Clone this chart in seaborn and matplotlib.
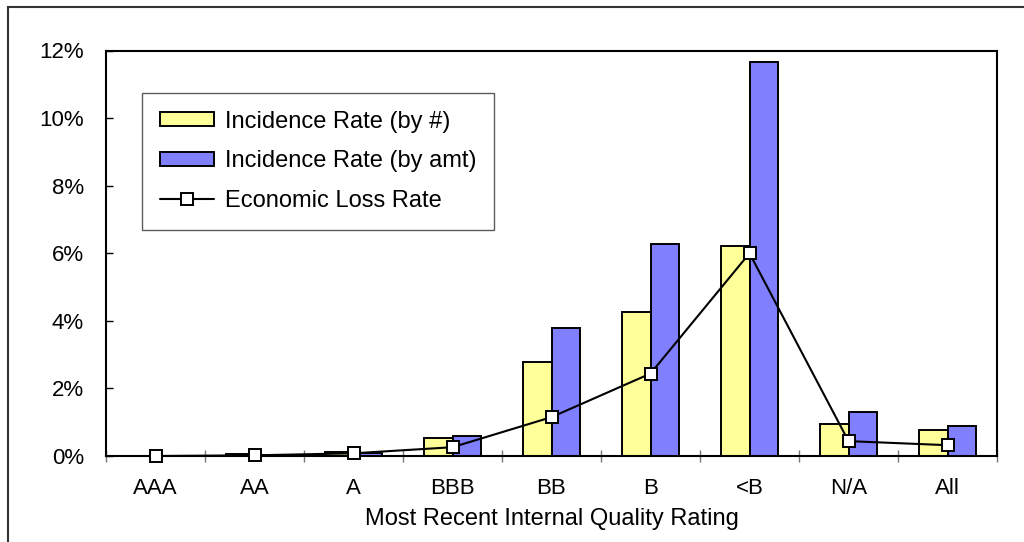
import numpy as np
import pandas as pd
import matplotlib
matplotlib.use("Agg")
import matplotlib.pyplot as plt
from matplotlib.patches import Rectangle
from matplotlib.ticker import FuncFormatter, FixedLocator
import seaborn as sns

# Default / loss statistics by most recent internal rating (in percent)
ratings = ["AAA", "AA", "A", "BBB", "BB", "B", "<B", "N/A", "All"]
incidence_by_count = [0.0, 0.05, 0.12, 0.52, 2.77, 4.26, 6.21, 0.95, 0.77]
incidence_by_amount = [0.0, 0.04, 0.08, 0.58, 3.78, 6.27, 11.65, 1.30, 0.89]
economic_loss = [0.0, 0.02, 0.08, 0.26, 1.15, 2.44, 6.00, 0.44, 0.32]

series_names = ["Incidence Rate (by #)", "Incidence Rate (by amt)"]
line_name = "Economic Loss Rate"

bars = pd.DataFrame({
    "rating": ratings * 2,
    "rate": incidence_by_count + incidence_by_amount,
    "series": [series_names[0]] * len(ratings) + [series_names[1]] * len(ratings),
})

sns.set_theme(style="white")
plt.rcParams["font.family"] = ["Liberation Sans", "DejaVu Sans"]
for key in ["text.color", "axes.labelcolor", "xtick.color", "ytick.color"]:
    plt.rcParams[key] = "black"

FS = 16

fig = plt.figure(figsize=(10.24, 5.42), dpi=100)
ax = fig.add_axes([106 / 1024, 1 - 456 / 542, (997 - 106) / 1024, (456 - 50.5) / 542])

sns.barplot(
    data=bars, x="rating", y="rate", hue="series", order=ratings,
    hue_order=series_names, palette=["#FFFF99", "#8080FF"],
    width=0.58, gap=0, edgecolor="black", linewidth=1.4,
    saturation=1, ax=ax,
)

sns.pointplot(
    x=ratings, y=economic_loss, order=ratings, color="black",
    markers="s", markersize=8, markerfacecolor="white",
    markeredgecolor="black", markeredgewidth=1.4, linewidth=1.5,
    label=line_name, ax=ax,
)
# keep the loss-rate markers fully visible on the zero line
for line in ax.lines:
    line.set_clip_on(False)
    line.set_zorder(5)

ax.set_xlim(-0.5, len(ratings) - 0.5)
ax.set_ylim(0, 12)
ax.yaxis.set_major_locator(FixedLocator(np.arange(0, 13, 2)))
ax.yaxis.set_major_formatter(FuncFormatter(lambda v, _: f"{v:.0f}%"))

# category boundaries carry the x tick marks
ax.xaxis.set_minor_locator(FixedLocator(np.arange(-0.5, len(ratings), 1.0)))
ax.tick_params(axis="x", which="major", length=0, pad=16, labelsize=FS, labelcolor="black")
ax.tick_params(axis="x", which="minor", length=9, width=1, direction="inout",
               color="#777777", bottom=True)
ax.tick_params(axis="y", which="major", length=5, width=1, direction="in",
               color="black", left=True, pad=16, labelsize=FS, labelcolor="black")

for side in ["left", "bottom", "top", "right"]:
    ax.spines[side].set_visible(True)
    ax.spines[side].set_color("black")
    ax.spines[side].set_linewidth(1.5)

ax.set_xlabel("Most Recent Internal Quality Rating", fontsize=17,
              labelpad=6, color="black")
ax.set_ylabel("")

handles, labels = ax.get_legend_handles_labels()
leg = ax.legend(
    handles, labels, loc="upper left",
    bbox_to_anchor=(142 / 1024, 1 - 93 / 542), bbox_transform=fig.transFigure,
    fontsize=17, frameon=True, fancybox=False, edgecolor="#333333",
    handlelength=2.3, handleheight=0.55, handletextpad=0.45,
    labelspacing=0.75, borderpad=0.75, borderaxespad=0,
)
leg.get_frame().set_linewidth(1.0)
leg.set_zorder(6)
for t in leg.get_texts():
    t.set_color("black")

# outer chart-area frame
fig.patches.append(Rectangle((8 / 1024, -0.1), 1.2, 1.1 - 7 / 542,
                             transform=fig.transFigure, fill=False,
                             edgecolor="#333333", linewidth=1.5))

fig.savefig("out.png", dpi=100, facecolor="white")
